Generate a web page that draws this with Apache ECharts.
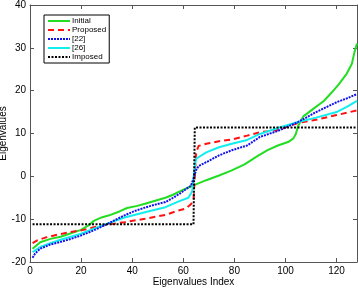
<!DOCTYPE html>
<html>
<head>
<meta charset="utf-8">
<script src="https://cdn.jsdelivr.net/npm/echarts@6/dist/echarts.min.js"></script>
<style>
  html, body { margin: 0; padding: 0; background: #fff; }
  #chart { width: 358px; height: 289px; }
</style>
</head>
<body>
<div id="chart"></div>
<script>
// [index, eigenvalue]
const initial = [[1,-16.9],[4,-15.4],[8,-14.6],[12,-14.1],[16,-13.3],[20,-12.5],[23,-11.4],[25,-10.4],[28,-9.6],[31,-9.1],[35,-8.2],[38,-7.4],[42,-6.9],[45,-6.4],[49,-5.7],[53,-5.0],[56,-4.3],[59,-3.4],[62,-2.6],[64,-2.1],[69,-0.9],[74,0.2],[79,1.4],[84,2.8],[89,4.7],[93,6.1],[97,7.2],[101,8.0],[103,8.8],[104,9.8],[105,11.8],[107,14.0],[111,15.8],[115,17.6],[118,19.5],[121,21.6],[124,24],[126,26.3],[127,29.0],[128,31]];
const proposed = [[1,-15.6],[3,-14.9],[6,-14.3],[11,-13.6],[16,-13],[21,-12.5],[25,-11.9],[30,-11.3],[37,-10.7],[45,-9.9],[53,-9],[58,-8],[61,-7.5],[63,-6.5],[64,-5.6],[65,5.5],[66,7.1],[69,7.6],[74,8.2],[79,8.6],[85,9.5],[90,10.3],[97,10.8],[101,11.6],[105,12.5],[112,13.2],[120,14.3],[128,15.4]];
const ref22 = [[1,-19],[2,-18],[4,-16.9],[8,-15.9],[12,-15.3],[16,-14.6],[20,-13.8],[25,-12.6],[30,-11.2],[33,-10.3],[37,-9.1],[41,-8.1],[45,-7.3],[49,-6.6],[53,-6],[56,-5],[59,-3.9],[61,-3],[63,-2.2],[64,-0.5],[65,1.4],[66,2.4],[69,3.3],[74,4.9],[79,6.1],[85,7.2],[90,9.2],[97,10.6],[105,12.7],[112,15],[120,17.3],[124,18.2],[128,19.2]];
const ref26 = [[1,-17.7],[4,-16.5],[8,-15.6],[12,-14.8],[16,-14.1],[20,-13.4],[25,-12.2],[30,-11.1],[37,-9.6],[45,-8.4],[53,-7.2],[58,-5.9],[62,-5],[63.5,-3.5],[64,-0.5],[64.5,2.2],[65,4.1],[69,5.6],[74,6.8],[79,7.6],[85,8.5],[90,9.9],[97,11.3],[105,12.7],[112,13.7],[120,15],[124,16.2],[128,17.6]];
const imposed = [[1,-11.2],[64,-11.2],[65,11.4],[128,11.4]];

const xTicks = [0, 20, 40, 60, 80, 100, 120];
const yTicks = [-20, -10, 0, 10, 20, 30, 40];

const chart = echarts.init(document.getElementById('chart'));
const font = 'Liberation Sans, Arial, sans-serif';
const axisCol = '#555';

const tickAxis = (pos, show) => ({
  position: pos,
  axisLine: { show: true, onZero: false, lineStyle: { color: axisCol, width: 1 } },
  axisTick: { show: true, inside: true, length: 4, lineStyle: { color: axisCol } },
  axisLabel: { show: show, color: '#000', fontSize: 10, fontFamily: font, margin: 4 },
  splitLine: { show: false }
});

chart.setOption({
  animation: false,
  grid: { left: 30, right: 1, top: 5, bottom: 27, containLabel: false, outerBoundsMode: 'none' },
  legend: {
    orient: 'vertical',
    left: 44, top: 15,
    itemWidth: 22, itemHeight: 8, itemGap: 1,
    padding: [2, 3, 2, 3],
    borderColor: '#000', borderWidth: 1,
    backgroundColor: '#fff',
    itemStyle: { opacity: 0 },
    textStyle: { fontSize: 8, fontFamily: font, color: '#000', padding: [0, 0, 0, -3] },
    data: ['Initial', 'Proposed', '[22]', '[26]', 'Imposed']
  },
  xAxis: [
    Object.assign(tickAxis('bottom', true), {
      type: 'value', min: 0, max: 128, interval: 20,
      name: 'Eigenvalues Index', nameLocation: 'middle', nameGap: 15, nameMoveOverlap: false,
      nameTextStyle: { fontSize: 10, fontFamily: font, color: '#000' },
      axisLabel: { show: true, color: '#000', fontSize: 10, fontFamily: font, margin: 4,
        formatter: v => xTicks.includes(v) ? String(v) : '' }
    }),
    Object.assign(tickAxis('top', false), { type: 'value', min: 0, max: 128, interval: 20 })
  ],
  yAxis: [
    Object.assign(tickAxis('left', true), {
      type: 'value', min: -20, max: 40, interval: 10,
      name: 'Eigenvalues', nameLocation: 'middle', nameGap: 22, nameMoveOverlap: false,
      nameTextStyle: { fontSize: 10, fontFamily: font, color: '#000' },
      axisLabel: { show: true, color: '#000', fontSize: 10, fontFamily: font, margin: 4,
        formatter: v => yTicks.includes(v) ? String(v) : '' }
    }),
    Object.assign(tickAxis('right', false), { type: 'value', min: -20, max: 40, interval: 10 })
  ],
  series: [
    { name: 'Initial', type: 'line', data: initial, symbol: 'none', z: 2,
      lineStyle: { color: '#22dd22', width: 2 }, itemStyle: { color: '#22dd22' } },
    { name: 'Proposed', type: 'line', data: proposed, symbol: 'none', z: 3,
      lineStyle: { color: '#ff1111', width: 2, type: [6, 4] }, itemStyle: { color: '#ff1111' } },
    { name: '[22]', type: 'line', data: ref22, symbol: 'none', z: 4,
      lineStyle: { color: '#1111ee', width: 2, type: [2, 1] }, itemStyle: { color: '#1111ee' } },
    { name: '[26]', type: 'line', data: ref26, symbol: 'none', z: 3,
      lineStyle: { color: '#11eeee', width: 2 }, itemStyle: { color: '#11eeee' } },
    { name: 'Imposed', type: 'line', data: imposed, symbol: 'none', step: 'middle', z: 5,
      lineStyle: { color: '#000', width: 2, type: [2, 1.5] }, itemStyle: { color: '#000' } }
  ]
});
</script>
</body>
</html>
